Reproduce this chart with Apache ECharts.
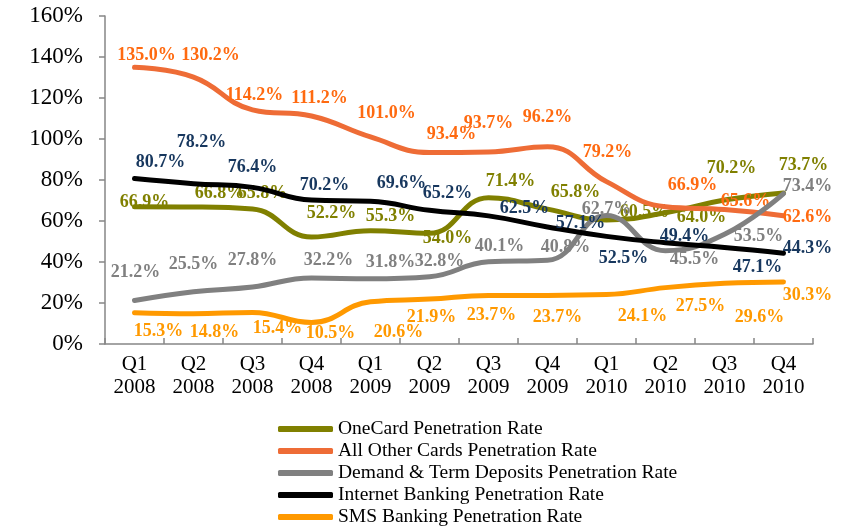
<!DOCTYPE html>
<html>
<head>
<meta charset="utf-8">
<script src="https://cdn.jsdelivr.net/npm/echarts@6/dist/echarts.min.js"></script>
<style>
  html, body { margin: 0; padding: 0; background: #ffffff; }
  #chart { width: 846px; height: 529px; }
</style>
</head>
<body>
<div id="chart"></div>
<script>
// Quarterly penetration rates, 2008-2010
const quarters = ['Q1\n2008', 'Q2\n2008', 'Q3\n2008', 'Q4\n2008',
                  'Q1\n2009', 'Q2\n2009', 'Q3\n2009', 'Q4\n2009',
                  'Q1\n2010', 'Q2\n2010', 'Q3\n2010', 'Q4\n2010'];

const oneCard     = [66.9, 66.8, 65.8, 52.2, 55.3, 54.0, 71.4, 65.8, 60.5, 64.0, 70.2, 73.7];
const otherCards  = [135.0, 130.2, 114.2, 111.2, 101.0, 93.4, 93.7, 96.2, 79.2, 66.9, 65.6, 62.6];
const deposits    = [21.2, 25.5, 27.8, 32.2, 31.8, 32.8, 40.1, 40.8, 62.7, 45.5, 53.5, 73.4];
const internet    = [80.7, 78.2, 76.4, 70.2, 69.6, 65.2, 62.5, 57.1, 52.5, 49.4, 47.1, 44.3];
const sms         = [15.3, 14.8, 15.4, 10.5, 20.6, 21.9, 23.7, 23.7, 24.1, 27.5, 29.6, 30.3];

const yTicks = { min: 0, max: 160, interval: 20 };

// Hand-placed data label nudges (pixels from each point, label centre)
const oneCardLabelShift = [[10,-5],[26,-14],[10,-16],[20,-24],[20,-14],[18,5],[22,-16],[28,-17],[38,-8],[36,5],[7,-32],[20,-28]];
const otherLabelShift   = [[12,-12],[17,-22],[2,-15],[8,-18],[16,-24],[22,-18],[0,-29],[0,-29],[1,-29],[27,-22],[21,-8],[24,2]];
const depositLabelShift = [[1,-28],[0,-27],[0,-27],[17,-18],[20,-16],[10,-15],[11,-15],[18,-13],[0,-6],[29,9],[34,2],[24,-7]];
const internetLabelShift= [[26,-16],[8,-41],[0,-20],[13,-15],[31,-18],[18,-17],[36,-8],[33,-4],[17,22],[19,-6],[33,20],[24,-5]];
const smsLabelShift     = [[24,19],[21,19],[25,16],[19,11],[28,31],[2,18],[3,20],[10,22],[36,22],[35,19],[35,34],[24,13]];

const serif = 'Liberation Serif';

function makeSeries(name, values, shifts, lineColor, labelColor, z) {
  return {
    name: name,
    type: 'line',
    smooth: 0.45,
    z: z,
    symbol: 'circle',
    symbolSize: 1,
    showSymbol: true,
    lineStyle: { width: 5, color: lineColor, cap: 'round', join: 'round' },
    itemStyle: { color: lineColor },
    emphasis: { disabled: true },
    label: {
      show: true,
      position: 'inside',
      align: 'center',
      verticalAlign: 'middle',
      fontFamily: serif,
      fontWeight: 'bold',
      fontSize: 18,
      color: labelColor,
      formatter: p => p.value.toFixed(1) + '%'
    },
    labelLayout: p => ({
      dx: shifts[p.dataIndex][0],
      dy: shifts[p.dataIndex][1],
      hideOverlap: false
    }),
    data: values
  };
}

const chart = echarts.init(document.getElementById('chart'), null, { renderer: 'canvas' });

chart.setOption({
  animation: false,
  backgroundColor: '#ffffff',
  grid: { left: 105, right: 33, top: 16, bottom: 185, containLabel: false },
  legend: {
    orient: 'vertical',
    left: 278,
    top: 418,
    padding: 0,
    icon: 'roundRect',
    itemWidth: 55,
    itemHeight: 6,
    itemGap: 0,
    textStyle: { fontFamily: serif, fontSize: 19.5, color: '#000000', lineHeight: 22 },
    selectedMode: false
  },
  xAxis: {
    type: 'category',
    data: quarters,
    boundaryGap: true,
    axisLine: { lineStyle: { color: '#868686', width: 1.5 } },
    axisTick: { show: true, inside: true, length: 6, alignWithLabel: false, lineStyle: { color: '#868686', width: 1.5 } },
    axisLabel: { fontFamily: serif, fontSize: 21, color: '#000000', lineHeight: 23, margin: 9 },
    splitLine: { show: false }
  },
  yAxis: {
    type: 'value',
    min: yTicks.min,
    max: yTicks.max,
    interval: yTicks.interval,
    axisLine: { show: true, lineStyle: { color: '#868686', width: 1.5 } },
    axisTick: { show: true, inside: false, length: 6, lineStyle: { color: '#868686', width: 1.5 } },
    axisLabel: { fontFamily: serif, fontSize: 23, color: '#000000', margin: 22, formatter: '{value}%' },
    splitLine: { show: false }
  },
  series: [
    makeSeries('OneCard Penetration Rate', oneCard, oneCardLabelShift, '#808000', '#808000', 2),
    makeSeries('All Other Cards Penetration Rate', otherCards, otherLabelShift, '#EE6C36', '#FF6A10', 3),
    makeSeries('Demand & Term Deposits Penetration Rate', deposits, depositLabelShift, '#808080', '#808080', 4),
    makeSeries('Internet Banking Penetration Rate', internet, internetLabelShift, '#000000', '#17375E', 5),
    makeSeries('SMS Banking Penetration Rate', sms, smsLabelShift, '#FF9900', '#FF9900', 6)
  ]
});
</script>
</body>
</html>
